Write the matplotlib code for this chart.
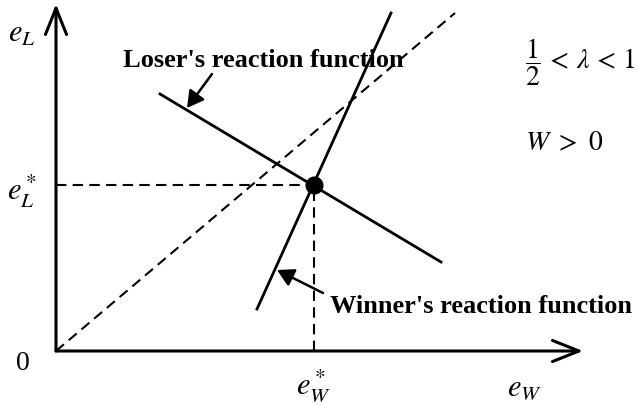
import matplotlib
matplotlib.use("Agg")
import matplotlib.pyplot as plt

plt.rcParams['mathtext.fontset'] = 'stix'

# effort space, origin at the corner of the axes
x_axis_end = (527, 0)
y_axis_end = (0, 347)
equilibrium = (258, 166)

# reaction functions as line segments (e_W, e_L)
loser_x = [104, 385]
loser_y = [257, 89]
winner_x = [335, 201]
winner_y = [338, 42]

# 45 degree reference line
diag_x = [0, 399]
diag_y = [0, 338]

loser_label = "Loser's reaction function"
winner_label = "Winner's reaction function"

fig = plt.figure(figsize=(6.38, 4.05), dpi=100)
ax = fig.add_axes([0, 0, 1, 1])
ax.set_xlim(-56, 582)
ax.set_ylim(-54, 351)
ax.axis('off')

# axes with open arrow heads
axis_style = dict(arrowstyle='->,head_length=0.95,head_width=0.38', lw=2.2,
                  color='black', mutation_scale=20, shrinkA=0, shrinkB=0)
ax.annotate('', xy=x_axis_end, xytext=(0, 0), arrowprops=axis_style)
ax.annotate('', xy=y_axis_end, xytext=(0, 0), arrowprops=axis_style)

dash = (0, (5, 3))
ax.plot(diag_x, diag_y, color='black', lw=1.5, ls=dash)
ax.plot([0, equilibrium[0]], [equilibrium[1], equilibrium[1]], color='black', lw=1.5, ls=dash)
ax.plot([equilibrium[0], equilibrium[0]], [0, equilibrium[1]], color='black', lw=1.5, ls=dash)

ax.plot(loser_x, loser_y, color='black', lw=2)
ax.plot(winner_x, winner_y, color='black', lw=2)
ax.plot(*equilibrium, 'o', color='black', ms=12)

# labels pointing at each curve
ptr = dict(arrowstyle='-|>,head_length=0.5,head_width=0.28', lw=1.8,
           color='black', mutation_scale=20, shrinkA=0, shrinkB=0)
ax.annotate('', xy=(131, 243), xytext=(156, 277), arrowprops=ptr)
ax.annotate('', xy=(221, 81), xytext=(267, 58), arrowprops=ptr)

ax.text(67, 284, loser_label, fontsize=19, fontweight='bold',
        family='Liberation Serif', ha='left', va='baseline')
ax.text(274, 38, winner_label, fontsize=19, fontweight='bold',
        family='Liberation Serif', ha='left', va='baseline')

ax.text(-34, 318, r'$e_L$', fontsize=22, ha='center', va='center')
ax.text(-34, 160, r'$e_L^*$', fontsize=22, ha='center', va='center')
ax.text(-33, -12, '0', fontsize=20, family='Liberation Serif', ha='center', va='center')
ax.text(257, -35, r'$e_W^*$', fontsize=22, ha='center', va='center')
ax.text(468, -36, r'$e_W$', fontsize=22, ha='center', va='center')
ax.text(469, 289, r'$\dfrac{1}{2}\,<\,\lambda\,<\,1$', fontsize=20, ha='left', va='center')
ax.text(469, 209, r'$W\ >\ 0$', fontsize=20, ha='left', va='center')

fig.savefig('out.png', dpi=100)
